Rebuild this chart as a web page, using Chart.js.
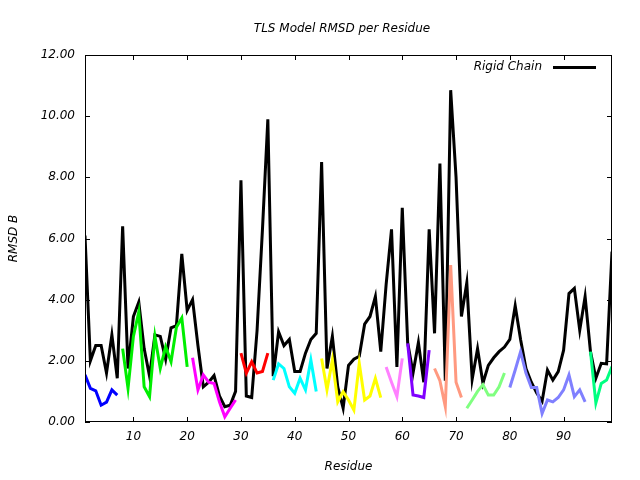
<!DOCTYPE html>
<html>
<head>
<meta charset="utf-8">
<script src="https://cdn.jsdelivr.net/npm/chart.js@4.4.0/dist/chart.umd.min.js"></script>
<style>
  html, body { margin: 0; padding: 0; background: #fff; }
</style>
</head>
<body>
<canvas id="myChart" width="640" height="480"></canvas>
<script>
// residue numbering starts at 1, one value per residue
const firstResidue = 1;
const xTicks = [10, 20, 30, 40, 50, 60, 70, 80, 90];
const yTicks = [0, 2, 4, 6, 8, 10, 12];

// Rigid Chain RMSD B, residues 1..99
const rigidChain = [
  6.1, 2.0, 2.5, 2.5, 1.6, 2.85, 1.43, 6.4, 1.75, 3.45,
  3.92, 2.4, 1.5, 2.85, 2.8, 2.05, 3.08, 3.15, 5.5, 3.65,
  4.0, 2.5, 1.15, 1.3, 1.52, 0.85, 0.5, 0.55, 1.0, 7.9,
  0.85, 0.8, 3.0, 6.3, 9.9, 1.5, 2.95, 2.5, 2.7, 1.65,
  1.65, 2.25, 2.7, 2.9, 8.5, 1.75, 2.8, 1.15, 0.45, 1.85,
  2.05, 2.15, 3.2, 3.45, 4.1, 2.3, 4.5, 6.3, 1.8, 7.0,
  2.6, 1.6, 2.6, 1.3, 6.3, 2.9, 8.45, 1.35, 10.85, 8.0,
  3.45, 4.55, 1.4, 2.4, 1.27, 1.85, 2.1, 2.3, 2.45, 2.7,
  3.8, 2.7, 1.75, 1.3, 0.95, 0.68, 1.7, 1.37, 1.65, 2.35,
  4.2, 4.37, 3.0, 4.1, 2.3, 1.43, 1.92, 1.9, 5.57,
];

// TLS group segments: first residue of each group and its values
const groupStarts = [1, 8, 21, 30, 36, 45, 57, 61, 66, 72, 80, 95];
const group1 = [1.54, 1.1, 1.02, 0.55, 0.65, 1.05, 0.88];
const group2 = [2.4, 1.1, 2.8, 3.6, 1.15, 0.83, 2.8, 1.75, 2.46, 1.97, 3.1, 3.4, 1.8];
const group3 = [2.1, 1.05, 1.54, 1.3, 1.26, 0.66, 0.17, 0.45, 0.72];
const group4 = [2.25, 1.6, 1.97, 1.6, 1.65, 2.25];
const group5 = [1.37, 1.9, 1.75, 1.15, 0.94, 1.43, 1.05, 2.03, 1.0];
const group6 = [2.08, 1.05, 2.03, 0.66, 0.99, 0.72, 0.39, 1.92, 0.72, 0.85, 1.43, 0.8];
const group7 = [1.8, 1.3, 0.83, 2.08];
const group8 = [2.57, 0.88, 0.85, 0.8, 2.35];
const group9 = [1.75, 1.35, 0.5, 5.13, 1.3, 0.8];
const group10 = [0.45, 0.72, 1.0, 1.22, 0.88, 0.88, 1.15, 1.6];
const group11 = [1.13, 1.7, 2.3, 1.6, 1.13, 1.13, 0.28, 0.72, 0.66, 0.8, 1.05, 1.54, 0.83, 1.05, 0.66];
const group12 = [2.3, 0.62, 1.26, 1.37, 1.81];
const groups = [group1, group2, group3, group4, group5, group6, group7, group8, group9, group10, group11, group12];

const groupColors = [
  '#0000ff', '#00ee00', '#ff00ff', '#ff0000', '#00ffff', '#ffff00',
  '#ff80ff', '#8000ff', '#ff9980', '#80ff80', '#8080ff', '#00ff80',
];

const font = { family: 'DejaVu Sans', size: 12, style: 'italic' };

const toPoints = (values, start) => values.map((y, i) => ({ x: start + i, y }));

const datasets = [
  {
    label: 'Rigid Chain',
    data: toPoints(rigidChain, firstResidue),
    borderColor: '#000',
    borderWidth: 3,
    order: 1,
  },
];
groups.forEach((g, i) => {
  datasets.push({
    label: `group ${i + 1}`,
    data: toPoints(g, groupStarts[i]),
    borderColor: groupColors[i],
    borderWidth: 3,
    order: 0,
  });
});

// gnuplot-like frame, inward ticks, title and key
const framePlugin = {
  id: 'frame',
  afterDraw(chart) {
    const { ctx, chartArea: a, scales } = chart;
    const tick = 5;
    ctx.save();
    ctx.strokeStyle = '#000';
    ctx.lineWidth = 1;
    ctx.strokeRect(a.left + 0.5, a.top + 0.5, a.right - a.left - 1, a.bottom - a.top - 1);
    ctx.beginPath();
    for (const v of xTicks) {
      const px = Math.round(scales.x.getPixelForValue(v)) + 0.5;
      ctx.moveTo(px, a.bottom);
      ctx.lineTo(px, a.bottom - tick);
      ctx.moveTo(px, a.top);
      ctx.lineTo(px, a.top + tick);
    }
    for (const v of yTicks) {
      const py = Math.round(scales.y.getPixelForValue(v)) + 0.5;
      ctx.moveTo(a.left, py);
      ctx.lineTo(a.left + tick, py);
      ctx.moveTo(a.right, py);
      ctx.lineTo(a.right - tick, py);
    }
    ctx.stroke();

    ctx.fillStyle = '#000';
    ctx.font = 'italic 12px "DejaVu Sans"';
    ctx.textAlign = 'center';
    ctx.textBaseline = 'alphabetic';
    ctx.fillText('TLS Model RMSD per Residue', 342, 31.5);

    ctx.textAlign = 'right';
    ctx.textBaseline = 'middle';
    ctx.fillText('Rigid Chain', 542, 67);
    ctx.lineWidth = 3;
    ctx.beginPath();
    ctx.moveTo(553, 67.5);
    ctx.lineTo(596, 67.5);
    ctx.stroke();
    ctx.restore();
  },
};

new Chart(document.getElementById('myChart'), {
  type: 'line',
  data: { datasets },
  options: {
    responsive: false,
    animation: false,
    layout: { padding: { top: 55, right: 28, left: 0, bottom: 0 } },
    elements: {
      point: { radius: 0 },
      line: { tension: 0, borderCapStyle: 'butt' },
    },
    plugins: {
      legend: { display: false },
      title: { display: false },
      tooltip: { enabled: false },
    },
    scales: {
      x: {
        type: 'linear',
        min: 1,
        max: 99,
        afterBuildTicks: (scale) => {
          scale.ticks = xTicks.map((value) => ({ value }));
        },
        afterFit: (scale) => {
          scale.height = 58;
        },
        grid: { display: false, drawTicks: false },
        border: { display: false },
        ticks: { font, color: '#000', padding: 8, maxRotation: 0 },
        title: {
          display: true,
          text: 'Residue',
          font,
          color: '#000',
          padding: { top: 0, bottom: 6 },
        },
      },
      y: {
        type: 'linear',
        min: 0,
        max: 12,
        afterBuildTicks: (scale) => {
          scale.ticks = yTicks.map((value) => ({ value }));
        },
        afterFit: (scale) => {
          scale.width = 85;
        },
        grid: { display: false, drawTicks: false },
        border: { display: false },
        ticks: {
          font,
          color: '#000',
          padding: 10,
          callback: (v) => Number(v).toFixed(2),
        },
        title: {
          display: true,
          text: 'RMSD B',
          font,
          color: '#000',
          padding: { top: 7, bottom: 0 },
        },
      },
    },
  },
  plugins: [framePlugin],
});
</script>
</body>
</html>
